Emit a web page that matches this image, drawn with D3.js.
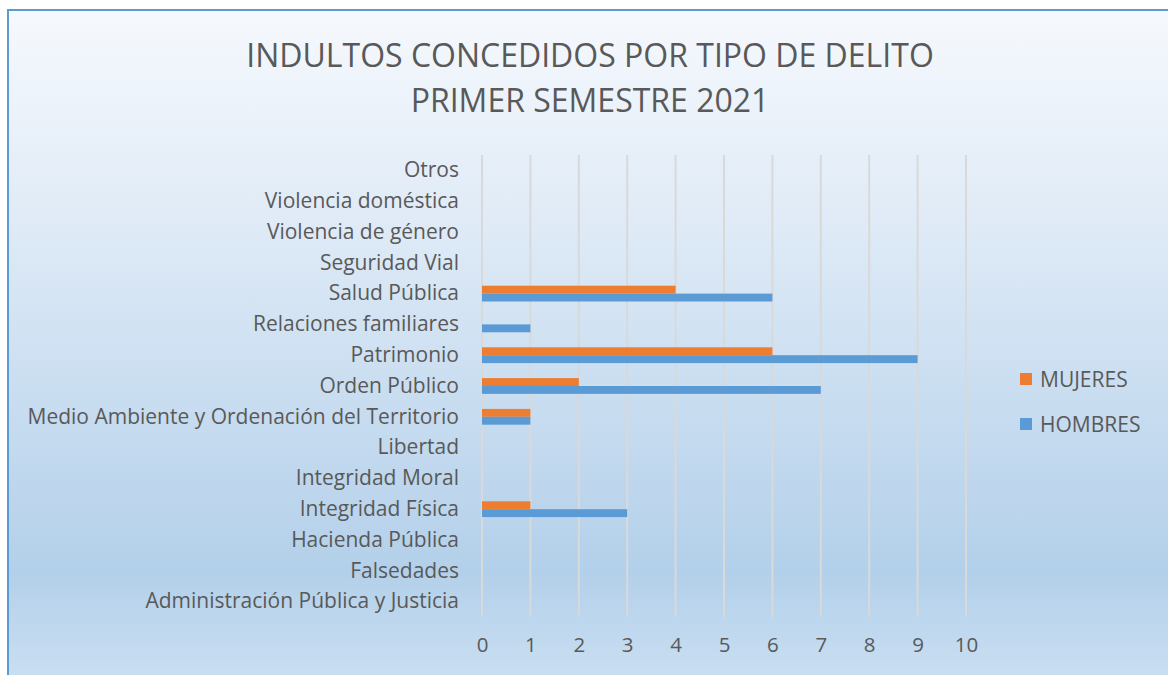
<!DOCTYPE html>
<html><head><meta charset="utf-8">
<script src="https://cdn.jsdelivr.net/npm/d3@7"></script>
<style>body{margin:0;padding:0;background:#fff;}svg{display:block;font-family:"Open Sans",sans-serif;}</style>
</head><body>
<script>
const categories = ["Administración Pública y Justicia","Falsedades","Hacienda Pública","Integridad Física","Integridad Moral","Libertad","Medio Ambiente y Ordenación del Territorio","Orden Público","Patrimonio","Relaciones familiares","Salud Pública","Seguridad Vial","Violencia de género","Violencia doméstica","Otros"];
const mujeres = [0,0,0,1,0,0,1,2,6,0,4,0,0,0,0];
const hombres = [0,0,0,3,0,0,1,7,9,1,6,0,0,0,0];
const seriesNames = ["MUJERES","HOMBRES"];
const tickValues = [0,1,2,3,4,5,6,7,8,9,10];
const titleLines = ["INDULTOS CONCEDIDOS POR TIPO DE DELITO","PRIMER SEMESTRE 2021"];

const W=1168,H=675;
const FONT="'Open Sans',sans-serif";
const svg=d3.select("body").append("svg").attr("width",W).attr("height",H);
const defs=svg.append("defs");
const g=defs.append("linearGradient").attr("id","bg").attr("x1",0).attr("y1",0).attr("x2",0).attr("y2",1);
[[0,"#f6f9fd"],[0.3,"#e0ebf7"],[0.82,"#b3d0ea"],[1,"#cde1f3"]].forEach(([o,c])=>g.append("stop").attr("offset",o).attr("stop-color",c));
svg.append("rect").attr("x",8).attr("y",10).attr("width",W+10).attr("height",H+10).attr("fill","url(#bg)").attr("stroke","#5b9bd5").attr("stroke-width",2);

const x=d3.scaleLinear().domain([0,10]).range([482,966]);
const y=d3.scaleBand().domain(categories.slice().reverse()).range([155,617]);
const inner=d3.scaleBand().domain(seriesNames).range([0,y.bandwidth()]).paddingInner(0).paddingOuter(0.95);

// gridlines
svg.append("g").selectAll("line").data(tickValues).join("line")
 .attr("x1",d=>x(d)).attr("x2",d=>x(d)).attr("y1",155).attr("y2",617)
 .attr("stroke","#d9d9d9").attr("stroke-width",2);

// bars
const data=categories.map((c,i)=>({c,v:[mujeres[i],hombres[i]]}));
const colors={MUJERES:"#ed7d31",HOMBRES:"#5b9bd5"};
seriesNames.forEach((s,si)=>{
 svg.append("g").selectAll("rect").data(data.filter(d=>d.v[si]>0)).join("rect")
  .attr("x",x(0)).attr("y",d=>y(d.c)+inner(s)).attr("width",d=>x(d.v[si])-x(0)).attr("height",inner.bandwidth())
  .attr("fill",colors[s]);
});

// y labels
const yAxis=svg.append("g").attr("transform","translate(468,0)").call(d3.axisLeft(y).tickSize(0).tickPadding(9));
yAxis.select(".domain").remove();
yAxis.selectAll("text").attr("font-size",21).attr("fill","#595959").style("font-family",FONT);

// x labels
const xAxis=svg.append("g").attr("transform","translate(0,629)").call(d3.axisBottom(x).tickValues(tickValues).tickSize(0).tickPadding(8));
xAxis.select(".domain").remove();
xAxis.selectAll("text").attr("font-size",20.5).attr("fill","#595959").style("font-family",FONT);

// title
svg.append("g").selectAll("text").data(titleLines).join("text")
 .attr("x",590).attr("y",(d,i)=>67+i*45).attr("text-anchor","middle")
 .attr("font-size",32).attr("fill","#595959").style("font-family",FONT).text(d=>d);

// legend
const leg=svg.append("g").selectAll("g").data(seriesNames).join("g")
 .attr("transform",(d,i)=>`translate(1020,${379+i*45})`);
leg.append("rect").attr("x",0).attr("y",-6).attr("width",12).attr("height",12).attr("fill",d=>colors[d]);
leg.append("text").attr("x",20).attr("y",8).attr("font-size",21).attr("fill","#595959").style("font-family",FONT).text(d=>d);
</script>
</body></html>
